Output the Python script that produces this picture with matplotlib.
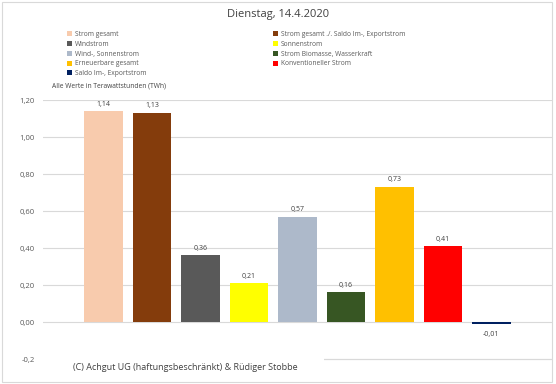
import matplotlib
matplotlib.use("Agg")
import matplotlib.pyplot as plt
from matplotlib.patches import Rectangle

categories = ["Strom gesamt", "Strom gesamt ./. Saldo Im-, Exportstrom", "Windstrom",
              "Sonnenstrom", "Wind-, Sonnenstrom", "Strom Biomasse, Wasserkraft",
              "Erneuerbare gesamt", "Konventioneller Strom", "Saldo Im-, Exportstrom"]
values = [1.14, 1.13, 0.36, 0.21, 0.57, 0.16, 0.73, 0.41, -0.01]
colors = ["#F8CBAD", "#843C0C", "#595959", "#FFFF00", "#ADB9CA", "#375623",
          "#FFC000", "#FF0000", "#002060"]
yticks = [-0.2, 0.0, 0.2, 0.4, 0.6, 0.8, 1.0, 1.2]
ytick_labels = ["-0,2", "0,00", "0,20", "0,40", "0,60", "0,80", "1,00", "1,20"]

plt.rcParams['font.family'] = ['Open Sans', 'DejaVu Sans']
fig = plt.figure(figsize=(5.56, 3.84), dpi=100)
W, H = 556, 384
ax = fig.add_axes([43 / W, 1 - 361 / H, (552 - 43) / W, (361 - 100) / H])

handles = []
for i, (c, v, col) in enumerate(zip(categories, values, colors)):
    b = ax.bar(i, v, width=0.8, color=col, label=c, zorder=3)
    handles.append(b)
    lab = f"{v:.2f}".replace(".", ",")
    off = 2.5 if v >= 0 else -5
    ax.annotate(lab, (i, v), xytext=(0, off), textcoords="offset points",
                ha="center", va="bottom" if v >= 0 else "top",
                fontsize=5, color="#404040")

ax.set_xlim(-1.25, 9.25)
ax.set_ylim(-0.2108, 1.2)
ax.set_yticks(yticks)
ax.set_yticklabels(ytick_labels, fontsize=5.5, color="#595959")
ax.set_xticks([])
ax.tick_params(axis="y", length=0, pad=6)
ax.grid(axis="y", color="#D9D9D9", linewidth=0.8, zorder=0)
ax.axhline(yticks[0], color="#D9D9D9", linewidth=0.8, zorder=0)
for s in ax.spines.values():
    s.set_visible(False)

fig.text(278 / W, 1 - 14 / H, "Dienstag, 14.4.2020", ha="center", va="center",
         fontsize=8, color="#404040")
fig.text(52 / W, 1 - 86 / H, "Alle Werte in Terawattstunden (TWh)", ha="left",
         va="center", fontsize=4.8, color="#404040")

leg_kw = dict(frameon=False, fontsize=4.8, handlelength=0.8, handleheight=0.8,
              handletextpad=0.4, labelspacing=0.42, borderpad=0, borderaxespad=0,
              labelcolor="#595959")
col1 = [0, 2, 4, 6, 8]
col2 = [1, 3, 5, 7]
leg1 = fig.legend([handles[i] for i in col1], [categories[i] for i in col1],
                  loc="upper left", bbox_to_anchor=(67 / W, 1 - 31 / H), **leg_kw)
leg2 = fig.legend([handles[i] for i in col2], [categories[i] for i in col2],
                  loc="upper left", bbox_to_anchor=(273 / W, 1 - 31 / H), **leg_kw)

# white box behind copyright text (covers part of the bottom gridline)
fig.patches.append(Rectangle((40 / W, 1 - 380 / H), (324 - 40) / W, 26 / H,
                             transform=fig.transFigure, facecolor="white",
                             edgecolor="none", zorder=5))
fig.text(73 / W, 1 - 368 / H, "(C) Achgut UG (haftungsbeschränkt) & Rüdiger Stobbe",
         ha="left", va="center", fontsize=6.5, color="#404040", zorder=6)

# chart border
fig.patches.append(Rectangle((2 / W, 2 / H), (552 - 2) / W, (382 - 2) / H,
                             transform=fig.transFigure, facecolor="none",
                             edgecolor="#D9D9D9", linewidth=0.8, zorder=7))

fig.savefig("out.png", dpi=100)
